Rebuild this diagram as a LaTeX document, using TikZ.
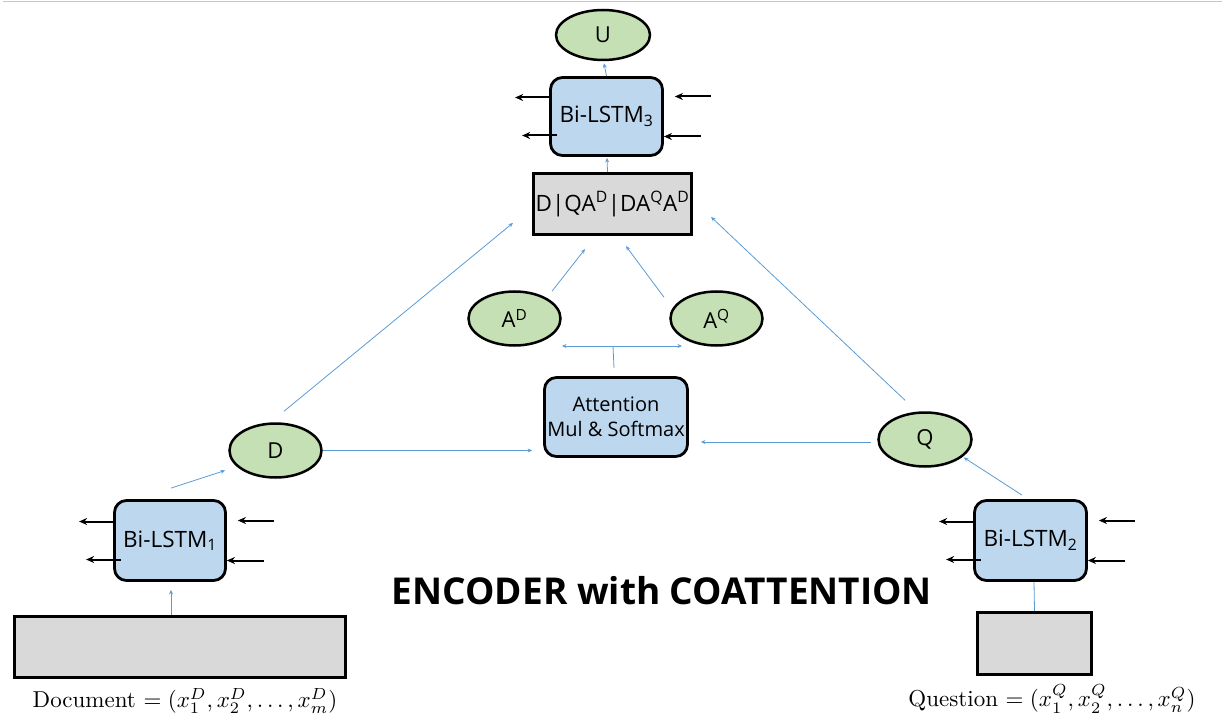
\RequirePackage{fix-cm}
\documentclass[tikz,border=0pt]{standalone}
\usepackage{fontspec}
\usepackage{graphicx}
\setsansfont{Open Sans}
\usetikzlibrary{shapes.geometric,arrows.meta,calc}
\definecolor{grn}{HTML}{C5E0B4}
\definecolor{blu}{HTML}{BDD7EE}
\definecolor{gry}{HTML}{D9D9D9}
\definecolor{lnk}{HTML}{5B9BD5}
\begin{document}
\begin{tikzpicture}[x=1pt,y=-1pt,
 ell/.style={ellipse, draw=black, line width=2.5pt, fill=grn, inner sep=0pt, font=\sffamily\fontsize{22}{26}\selectfont},
 lstm/.style={rectangle, rounded corners=12pt, draw=black, line width=2.8pt, fill=blu, inner sep=0pt, align=center, font=\sffamily\fontsize{22.5}{26}\selectfont},
 gbox/.style={rectangle, draw=black, line width=3.2pt, fill=gry, inner sep=0pt},
 conn/.style={draw=lnk, line width=0.8pt, -{Stealth[length=4.5pt,width=4pt]}},
 barr/.style={draw=black, line width=2pt, -{Stealth[length=8pt,width=7pt]}},
 lab/.style={font=\rmfamily\fontsize{10}{12}\selectfont, inner sep=0pt}
]
\useasboundingbox (0,0) rectangle (1231,719);
\draw[black!22, line width=1.5pt] (3,1.5) -- (1222,1.5);

% nodes
\node[ell, minimum width=94, minimum height=50] (U) at (603,35) {U};
\node[lstm, minimum width=112, minimum height=78] (L3) at (606.5,116.5) {Bi-LSTM\textsubscript{3}};
\node[gbox, minimum width=158, minimum height=61, font=\sffamily\fontsize{22.5}{26}\selectfont] (cat) at (612.5,204) {D|QA\textsuperscript{D}|DA\textsuperscript{Q}A\textsuperscript{D}};
\node[ell, minimum width=92, minimum height=54] (AD) at (514.5,318.5) {A\textsuperscript{D}};
\node[ell, minimum width=92, minimum height=54] (AQ) at (716.5,318.5) {A\textsuperscript{Q}};
\node[lstm, minimum width=143, minimum height=79, font=\sffamily\fontsize{20}{25}\selectfont] (att) at (616,417) {Attention\\Mul \& Softmax};
\node[ell, minimum width=92, minimum height=54] (D) at (275.5,450.5) {D};
\node[ell, minimum width=93, minimum height=54] (Q) at (925,439.5) {Q};
\node[lstm, minimum width=111, minimum height=80] (L1) at (170,540.5) {Bi-LSTM\textsubscript{1}};
\node[lstm, minimum width=112, minimum height=80] (L2) at (1030.5,540.5) {Bi-LSTM\textsubscript{2}};
\node[gbox, minimum width=331, minimum height=61] (doc) at (180,647) {};
\node[gbox, minimum width=114, minimum height=62] (qbox) at (1034.5,643.5) {};
\node[lab] (doclab) at (185,701) {\scalebox{2.3}{Document $=(x_1^D,x_2^D,\ldots,x_m^D)$}};
\node[lab] (qlab) at (1052,699) {\scalebox{2.3}{Question $=(x_1^Q,x_2^Q,\ldots,x_n^Q)$}};
\node[font=\sffamily\bfseries\fontsize{37}{44}\selectfont, inner sep=0pt] (title) at (662,591) {ENCODER with COATTENTION};

% black bidirectional arrows
\foreach \n in {L1,L2,L3} {
  \draw[barr] ($(\n.west)+(0,-19)$) -- ++(-34,0);
  \draw[barr] ($(\n.west)+(8,19)$) -- ++(-35,0);
  \draw[barr] ($(\n.east)+(47,-20)$) -- ++(-36,0);
  \draw[barr] ($(\n.east)+(37,20)$) -- ++(-37,0);
}

% blue connectors
\coordinate (hl) at (562,346);
\coordinate (hr) at (682,346);
\coordinate (split) at (613,346);
\draw[conn] (L3.north) -- ($(U.south)+(1,2)$);
\draw[conn] ($(cat.north)+(-5,0)$) -- ($(L3.south)+(0.5,1)$);
\draw[conn] ($(D.north)+(8.5,-11)$) -- ($(cat.west)+(-19,19)$);
\draw[conn] ($(Q.north)+(-20,-11)$) -- ($(cat.east)+(18,13)$);
\draw[conn] ($(AD.north)+(37.5,1)$) -- ($(cat.south)+(-27.5,13)$);
\draw[conn] ($(AQ.north)+(-52.5,7)$) -- ($(cat.south)+(13.5,10)$);
\draw[draw=lnk, line width=0.8pt] ($(att.north)+(-2,-8)$) -- (split);
\draw[conn, {Stealth[length=4.5pt,width=4pt]}-{Stealth[length=4.5pt,width=4pt]}] (hl) -- (hr);
\draw[conn] (D.east) -- ($(att.west |- D.east)+(-11,0)$);
\draw[conn] ($(Q.west)+(-6,2.5)$) -- ($(att.east |- Q.west)+(12,2.5)$);
\draw[conn] ($(L1.north)+(1,-11)$) -- ($(D.south west)+(-17,0)$);
\draw[conn] ($(L2.north)+(-8.5,-4)$) -- ($(Q.south east)+(5,-2)$);
\draw[conn] ($(doc.north)+(-9,0)$) -- ($(L1.south)+(1,8)$);
\draw[draw=lnk, line width=0.8pt] ($(L2.south)+(3.5,0)$) -- ($(qbox.north)+(0,0)$);
\end{tikzpicture}
\end{document}
